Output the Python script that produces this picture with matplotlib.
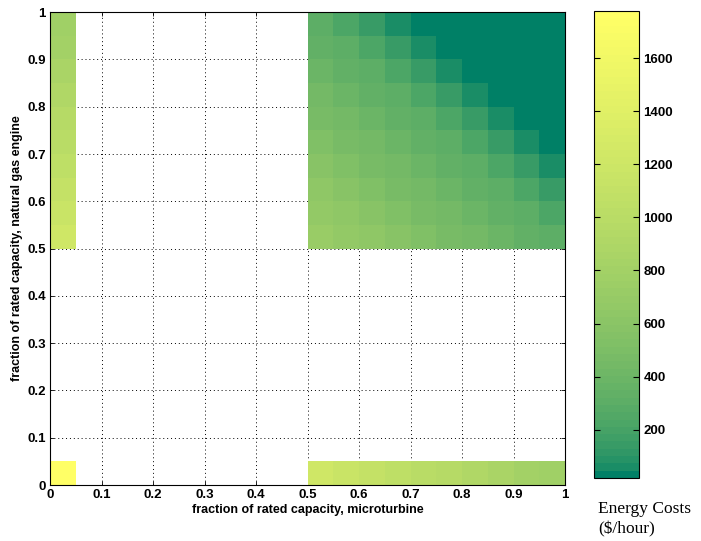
import numpy as np
import matplotlib
matplotlib.use("Agg")
import matplotlib.pyplot as plt
from matplotlib.colors import ListedColormap

# energy costs ($/hour), cells of 0.05 x 0.05
# block: microturbine 0.5..0.95 (columns), gas engine 0.5..0.95 (rows, bottom first)
block = [
    [731, 673, 625, 579, 521, 477, 432, 388, 338, 310],
    [673, 625, 579, 521, 477, 432, 388, 338, 310, 222],
    [625, 579, 521, 477, 432, 388, 338, 310, 222, 137],
    [579, 521, 477, 432, 388, 338, 310, 222, 137, 56],
    [521, 477, 432, 388, 338, 310, 222, 137, 56, 25],
    [477, 432, 388, 338, 310, 222, 137, 56, 25, 25],
    [432, 388, 338, 310, 222, 137, 56, 25, 25, 25],
    [388, 338, 310, 222, 137, 56, 25, 25, 25, 25],
    [338, 310, 222, 137, 56, 25, 25, 25, 25, 25],
    [310, 222, 137, 56, 25, 25, 25, 25, 25, 25],
]
# microturbine off (x = 0), gas engine 0.5..0.95
gas_only = [1202, 1150, 1099, 1049, 1000, 953, 905, 861, 815, 771]
# gas engine off (y = 0), microturbine 0.5..0.95
micro_only = [1202, 1150, 1099, 1049, 1000, 953, 905, 861, 815, 771]
both_off = 1778

vmin, vmax = 18, 1778

grid = np.full((20, 20), np.nan)
grid[10:, 10:] = np.array(block)
grid[10:, 0] = gas_only
grid[0, 10:] = micro_only
grid[0, 0] = both_off
data = np.ma.masked_invalid(grid)

edges = np.linspace(0, 1, 21)

# summer-like map, 64 levels, brightened at the low end
r = np.linspace(0, 1, 64) ** 0.55
summer = ListedColormap(np.column_stack([r, 0.5 + r / 2, np.full(64, 0.4)]))

plt.rcParams['font.family'] = ['Liberation Sans', 'DejaVu Sans']

fig = plt.figure(figsize=(7.01, 5.41), dpi=100)
ax = fig.add_axes([0.0713, 0.1035, 0.735, 0.874])
mesh = ax.pcolormesh(edges, edges, data, cmap=summer, vmin=vmin, vmax=vmax, zorder=2)

ax.set_xlim(0, 1)
ax.set_ylim(0, 1)
ticks = np.round(np.arange(0, 1.01, 0.1), 1)
labels = ['0'] + ['%.1f' % t for t in ticks[1:-1]] + ['1']
ax.set_xticks(ticks)
ax.set_xticklabels(labels)
ax.set_yticks(ticks)
ax.set_yticklabels(labels)
ax.grid(True, color='black', linestyle=(0, (1, 3)), linewidth=0.7, zorder=1)
ax.set_axisbelow(True)
ax.tick_params(direction='in', top=True, right=True, length=3, width=0.6, labelsize=9.5, pad=3)
for lab in ax.get_xticklabels() + ax.get_yticklabels():
    lab.set_fontweight('bold')
for s in ax.spines.values():
    s.set_linewidth(0.8)
    s.set_zorder(3)
ax.set_xlabel('fraction of rated capacity, microturbine', fontsize=9, fontweight='bold', labelpad=2)
ax.set_ylabel('fraction of rated capacity, natural gas engine', fontsize=9, fontweight='bold', labelpad=3)

cax = fig.add_axes([0.847, 0.1165, 0.064, 0.8632])
cb = fig.colorbar(mesh, cax=cax)
cb.set_ticks(np.arange(200, 1601, 200))
cb.ax.tick_params(direction='in', left=True, right=True, length=4, width=0.8, labelsize=9.5)
for lab in cb.ax.get_yticklabels():
    lab.set_fontweight('bold')
cb.outline.set_linewidth(0.8)

fig.text(0.853, 0.040, 'Energy Costs\n($/hour)', family='Liberation Serif', fontsize=12.5,
         ha='left', va='center', linespacing=1.3)

fig.savefig('out.png', dpi=100)
